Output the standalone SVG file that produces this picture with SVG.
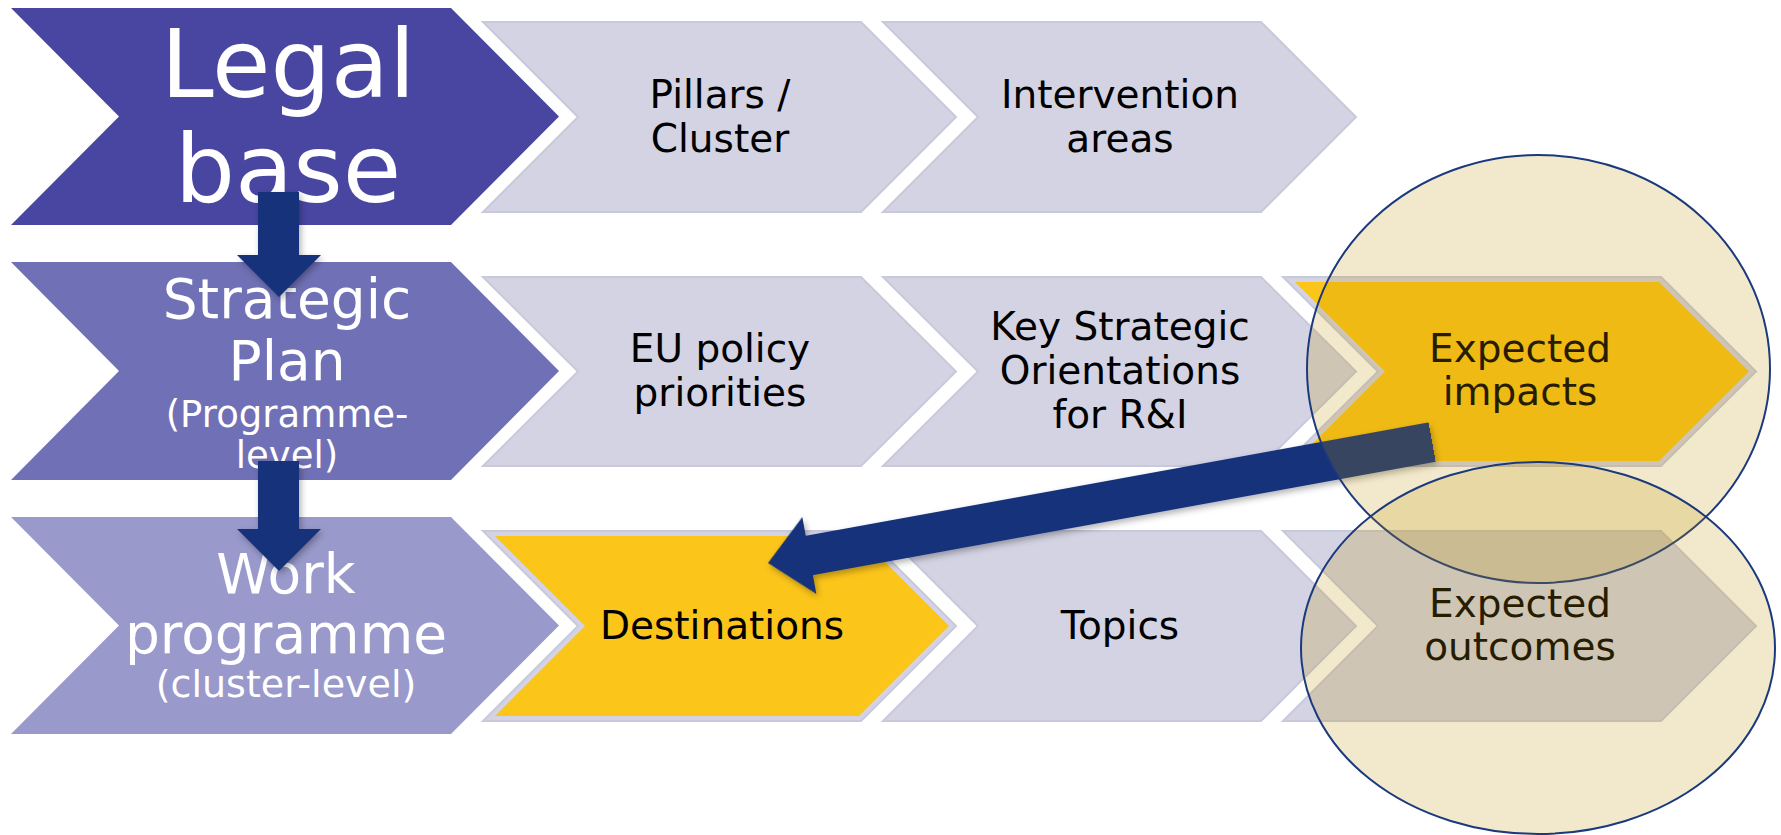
<svg xmlns="http://www.w3.org/2000/svg" width="1781" height="835" viewBox="0 0 1781 835">
<defs>
<style>
.t{font-family:"DejaVu Sans","Verdana",sans-serif;text-anchor:middle}
.w{fill:#ffffff}
.b{fill:#000000;font-size:39px}
.lt{fill:#d3d3e3;stroke:#c9c9dc;stroke-width:2}
.yl{fill:#fcc51a}
.arr{fill:#14307a}
.ell{fill:#bf9000;fill-opacity:0.2;stroke:#1b3a7e;stroke-width:2}
</style>
<filter id="sh" x="-20%" y="-20%" width="140%" height="140%">
<feDropShadow dx="2" dy="3" stdDeviation="3" flood-color="#000" flood-opacity="0.3"/>
</filter>
</defs>
<rect width="1781" height="835" fill="#ffffff"/>
<g id="legal-base">
<path d="M11,8 H451 L559,116.5 L451,225 H11 L119,116.5 Z" fill="#4946a2"/>
<text class="t w" x="288" y="97" font-size="95">Legal</text>
<text class="t w" x="288" y="202" font-size="95">base</text>
</g>
<g id="pillars">
<path class="lt" d="M483,22 H861 L956,117 L861,212 H483 L578,117 Z"/>
<text class="t b" x="720" y="108">Pillars /</text>
<text class="t b" x="720" y="152">Cluster</text>
</g>
<g id="intervention">
<path class="lt" d="M883,22 H1261 L1356,117 L1261,212 H883 L978,117 Z"/>
<text class="t b" x="1120" y="108">Intervention</text>
<text class="t b" x="1120" y="152">areas</text>
</g>
<g id="strategic-plan">
<path d="M11,262 H451 L559,371 L451,480 H11 L119,371 Z" fill="#7070b6"/>
<text class="t w" x="287" y="318" font-size="55">Strategic</text>
<text class="t w" x="287" y="380" font-size="55">Plan</text>
<text class="t w" x="287" y="427" font-size="37">(Programme-</text>
<text class="t w" x="287" y="468" font-size="37">level)</text>
</g>
<g id="eu-policy">
<path class="lt" d="M483,277 H861 L956,371.5 L861,466 H483 L578,371.5 Z"/>
<text class="t b" x="720" y="362">EU policy</text>
<text class="t b" x="720" y="406">priorities</text>
</g>
<g id="key-strategic">
<path class="lt" d="M883,277 H1261 L1356,371.5 L1261,466 H883 L978,371.5 Z"/>
<text class="t b" x="1120" y="340">Key Strategic</text>
<text class="t b" x="1120" y="384">Orientations</text>
<text class="t b" x="1120" y="428">for R&amp;I</text>
</g>
<g id="expected-impacts">
<path class="lt" d="M1283,277 H1661 L1756,371.5 L1661,466 H1283 L1378,371.5 Z"/>
<path class="yl" d="M1295,282 H1659 L1749,371.5 L1659,461 H1295 L1385,371.5 Z"/>
<text class="t b" x="1520" y="362">Expected</text>
<text class="t b" x="1520" y="405">impacts</text>
</g>
<g id="work-programme">
<path d="M11,517 H451 L559,625.5 L451,734 H11 L119,625.5 Z" fill="#9999cb"/>
<text class="t w" x="286" y="593" font-size="55">Work</text>
<text class="t w" x="286" y="653" font-size="55">programme</text>
<text class="t w" x="286" y="697" font-size="38">(cluster-level)</text>
</g>
<g id="destinations">
<path class="lt" d="M483,531 H861 L956,626 L861,721 H483 L578,626 Z"/>
<path class="yl" d="M495,536 H859 L949,626 L859,716 H495 L585,626 Z"/>
<text class="t b" x="722" y="639">Destinations</text>
</g>
<g id="topics">
<path class="lt" d="M883,531 H1261 L1356,626 L1261,721 H883 L978,626 Z"/>
<text class="t b" x="1120" y="639">Topics</text>
</g>
<g id="expected-outcomes">
<path class="lt" d="M1283,531 H1661 L1756,626 L1661,721 H1283 L1378,626 Z"/>
<text class="t b" x="1520" y="617">Expected</text>
<text class="t b" x="1520" y="660">outcomes</text>
</g>
<g id="connectors" filter="url(#sh)">
<path class="arr" d="M258,192 H299 V255 H321 L279,297 L237,255 H258 Z"/>
<path class="arr" d="M258,461 H299 V529 H321 L279,571 L237,529 H258 Z"/>
<path class="arr" transform="translate(768,563) rotate(-10.32)" d="M0,0 L42,-39 L42,-20 L675,-20 L675,20 L42,20 L42,39 Z"/>
</g>
<g id="highlights">
<ellipse class="ell" cx="1538.5" cy="369" rx="231.5" ry="214"/>
<ellipse class="ell" cx="1538" cy="648" rx="237" ry="186"/>
</g>
</svg>
